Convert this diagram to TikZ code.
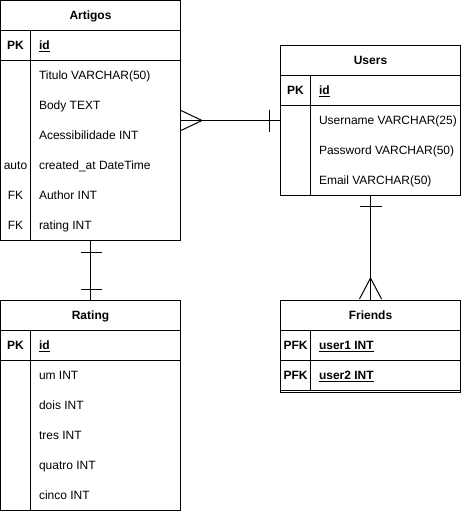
\documentclass[tikz,border=0pt]{standalone}
\usepackage{fontspec}
\setmainfont{Liberation Sans}

\begin{document}
\begin{tikzpicture}[x=1pt, y=-1pt, line width=1pt,
    every node/.style={font=\fontsize{12}{14}\selectfont, text height=8.6pt, text depth=0pt},
    table/.style={draw, rectangle, inner sep=0pt, minimum width=180pt},
    title/.style={font=\fontsize{12}{14}\selectfont\bfseries},
    keyname/.style={font=\fontsize{12}{14}\selectfont\bfseries, inner sep=0pt},
    keytag/.style={inner sep=0pt},
    field/.style={anchor=west, inner sep=0pt}]
   \useasboundingbox (0,0) rectangle (461,511);

   % Artigos
   \node[table, minimum height=240pt] (artigos) at (90.5,120.5) {};
   \node[title] (artigosT) at (90.5,15.5) {Artigos};
   \draw (0.5,30.5) -- (180.5,30.5);
   \draw (0.5,60.5) -- (180.5,60.5);
   \draw (30.5,30.5) -- (30.5,240.5);
   \node[keyname] (artigosPK) at (15.5,45.5) {PK};
   \node[field, font=\fontsize{12}{14}\selectfont\bfseries] (artigosId) at (38.5,45.5) {\underline{id}};
   \node[field] (titulo) at (38.5,75.5) {Titulo VARCHAR(50)};
   \node[field] (body) at (38.5,105.5) {Body TEXT};
   \node[field] (acess) at (38.5,135.5) {Acessibilidade INT};
   \node[keytag] (autoTag) at (15.5,165.5) {auto};
   \node[field] (created) at (38.5,165.5) {created\_at DateTime};
   \node[keytag] (authorFK) at (15.5,195.5) {FK};
   \node[field] (author) at (38.5,195.5) {Author INT};
   \node[keytag] (ratingFK) at (15.5,225.5) {FK};
   \node[field] (ratingF) at (38.5,225.5) {rating INT};

   % Users
   \node[table, minimum height=150pt] (users) at (370.5,120.5) {};
   \node[title] (usersT) at (370.5,60.5) {Users};
   \draw (280.5,75.5) -- (460.5,75.5);
   \draw (280.5,105.5) -- (460.5,105.5);
   \draw (310.5,75.5) -- (310.5,195.5);
   \node[keyname] (usersPK) at (295.5,90.5) {PK};
   \node[field, font=\fontsize{12}{14}\selectfont\bfseries] (usersId) at (318.5,90.5) {\underline{id}};
   \node[field] (username) at (318.5,120.5) {Username VARCHAR(25)};
   \node[field] (password) at (318.5,150.5) {Password VARCHAR(50)};
   \node[field] (email) at (318.5,180.5) {Email VARCHAR(50)};

   % Rating
   \node[table, minimum height=210pt] (rating) at (90.5,405.5) {};
   \node[title] (ratingT) at (90.5,315.5) {Rating};
   \draw (0.5,330.5) -- (180.5,330.5);
   \draw (0.5,360.5) -- (180.5,360.5);
   \draw (30.5,330.5) -- (30.5,510.5);
   \node[keyname] (ratingPK) at (15.5,345.5) {PK};
   \node[field, font=\fontsize{12}{14}\selectfont\bfseries] (ratingId) at (38.5,345.5) {\underline{id}};
   \node[field] (um) at (38.5,375.5) {um INT};
   \node[field] (dois) at (38.5,405.5) {dois INT};
   \node[field] (tres) at (38.5,435.5) {tres INT};
   \node[field] (quatro) at (38.5,465.5) {quatro INT};
   \node[field] (cinco) at (38.5,495.5) {cinco INT};

   % Friends
   \node[table, minimum height=92pt] (friends) at (370.5,346.5) {};
   \node[title] (friendsT) at (370.5,315.5) {Friends};
   \draw (280.5,330.5) -- (460.5,330.5);
   \draw (280.5,360.5) -- (460.5,360.5);
   \draw (280.5,390.5) -- (460.5,390.5);
   \draw (310.5,330.5) -- (310.5,390.5);
   \node[keyname] (user1PFK) at (295.5,345.5) {PFK};
   \node[field, font=\fontsize{12}{14}\selectfont\bfseries] (user1) at (318.5,345.5) {\underline{user1 INT}};
   \node[keyname] (user2PFK) at (295.5,375.5) {PFK};
   \node[field, font=\fontsize{12}{14}\selectfont\bfseries] (user2) at (318.5,375.5) {\underline{user2 INT}};

   % relations
   \draw (artigos) -- (users);
   \draw ([yshift=10pt]artigos.east) -- ++(21,10) -- ++(-21,10);
   \draw ([xshift=-11pt, yshift=11pt]users.west) -- ++(0,22);

   \draw (artigos) -- (rating);
   \draw ([xshift=-10pt, yshift=-11pt]artigos.south) -- ++(21,0);
   \draw ([xshift=-10pt, yshift=11pt]rating.north) -- ++(21,0);

   \draw (users) -- (friends);
   \draw ([xshift=-11pt, yshift=-10pt]users.south) -- ++(22,0);
   \draw ([xshift=-11pt, yshift=1pt]friends.north) -- ++(11,-21) -- ++(11,21);
\end{tikzpicture}
\end{document}
